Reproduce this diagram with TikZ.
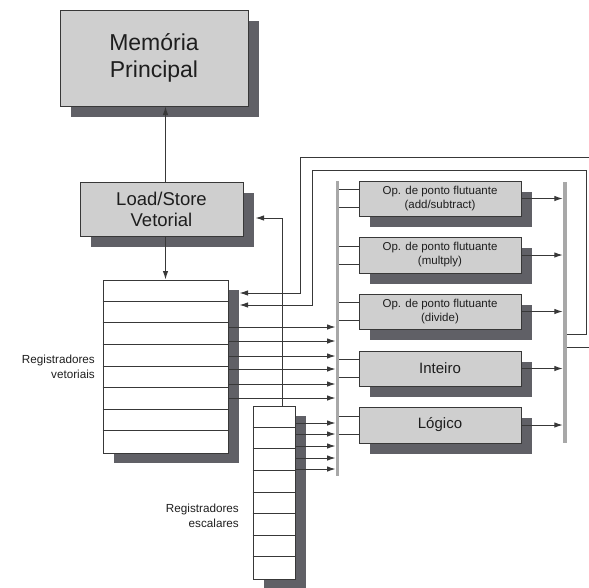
\documentclass[tikz,border=0pt]{standalone}
\usepackage{fontspec}
\setmainfont{Liberation Sans}
\usetikzlibrary{arrows.meta,calc,shadows}
\definecolor{boxfill}{HTML}{CFCFCF}
\definecolor{shade}{HTML}{606066}
\definecolor{busgray}{HTML}{A8A8A8}
\definecolor{linec}{HTML}{383838}
\definecolor{txt}{HTML}{1E1E1E}
\begin{document}
\begin{tikzpicture}[x=1pt,y=-1pt,
  boxsh/.style={draw=linec, line width=1pt, fill=boxfill, inner sep=0pt, text=txt, align=center,
    drop shadow={shadow xshift=11pt, shadow yshift=-11pt, fill=shade, opacity=1}},
  regsh/.style={draw=linec, line width=1pt, fill=white, inner sep=0pt,
    drop shadow={shadow xshift=11pt, shadow yshift=-10pt, fill=shade, opacity=1}},
  bus/.style={fill=busgray, draw=none, inner sep=0pt},
  conn/.style={draw=linec, line width=1pt},
  arr/.style={conn, -{Latex[length=8.5pt,width=5.5pt]}},
  cell/.style={draw=linec, line width=0.9pt},
  lab/.style={text=txt, inner sep=0pt, align=right, font=\fontsize{11.7}{15}\selectfont},
  small/.style={font=\fontsize{11.5}{14}\selectfont},
  mid/.style={font=\fontsize{15}{18}\selectfont}
]
\useasboundingbox (0,0) rectangle (589,587);

% main boxes
\node[boxsh, minimum width=188pt, minimum height=96pt, font=\fontsize{23}{27}\selectfont] (mem) at (154,58) {Memória\\Principal};
\node[boxsh, minimum width=163pt, minimum height=54pt, font=\fontsize{18.5}{21}\selectfont] (ls) at (161.5,209) {Load/Store\\Vetorial};

% register files
\node[regsh, minimum width=125pt, minimum height=173pt] (vreg) at (165.5,366.5) {};
\foreach \i in {1,...,7}
  \draw[cell] ($(vreg.north west)+(0,\i*21.625)$) -- ($(vreg.north east)+(0,\i*21.625)$);
\node[regsh, minimum width=42pt, minimum height=173pt] (sreg) at (274,492.5) {};
\foreach \i in {1,...,7}
  \draw[cell] ($(sreg.north west)+(0,\i*21.625)$) -- ($(sreg.north east)+(0,\i*21.625)$);

\node[lab, anchor=east] (vlab) at (95,366.5) {Registradores\\vetoriais};
\node[lab, anchor=east] (slab) at (239,516) {Registradores\\escalares};

% functional units
\node[boxsh, small, minimum width=162pt, minimum height=35pt] (u1) at (440,198.5) {Op. de ponto flutuante\\(add/subtract)};
\node[boxsh, small, minimum width=162pt, minimum height=36pt] (u2) at (440,255) {Op. de ponto flutuante\\(multply)};
\node[boxsh, small, minimum width=162pt, minimum height=35pt] (u3) at (440,311.5) {Op. de ponto flutuante\\(divide)};
\node[boxsh, mid, minimum width=162pt, minimum height=35pt] (u4) at (440,368.5) {Inteiro};
\node[boxsh, mid, minimum width=162pt, minimum height=36pt] (u5) at (440,425) {Lógico};

% buses
\node[bus, minimum width=3.5pt, minimum height=295pt] (lbus) at (337.5,328.5) {};
\node[bus, minimum width=4pt, minimum height=261pt] (rbus) at (565,312.5) {};

% helper coordinates
\coordinate (vsh) at ($(vreg.east)+(11,0)$);
\coordinate (lssh) at ($(ls.east)+(12,9)$);
\coordinate (eA) at (589,157);
\coordinate (eB) at (589,347);

% memory connections
\draw[arr] (ls.north -| vreg.north) -- (mem.south -| vreg.north);
\draw[arr] (ls.south -| vreg.north) -- (vreg.north);

% vector regs to bus
\foreach \y in {327,341,356,369,384,398}
  \draw[arr] (vreg.east |- 0,\y) -- (lbus.west |- 0,\y);
% scalar regs to bus
\foreach \y in {423,434,446,458,469}
  \draw[arr] (sreg.east |- 0,\y) -- (lbus.west |- 0,\y);

% scalar regs to load/store
\draw[arr] ($(sreg.north)+(8,0)$) -- (282,218) -- (lssh);

% bus to units
\foreach \u in {u1,u2,u3,u4,u5} {
  \draw[conn] (lbus.east |- {$(\u.west)+(0,-9)$}) -- ($(\u.west)+(0,-9)$);
  \draw[conn] (lbus.east |- {$(\u.west)+(0,9)$}) -- ($(\u.west)+(0,9)$);
  \draw[arr] (\u.east) -- (rbus.west |- \u.east);
}

% feedback loops
\draw[conn] (rbus.east |- eB) -- (eB);
\draw[arr] (eA) -- (300,157) -- (300,293) -- (vsh |- 0,293);
\draw[arr] (rbus.east |- 0,334) -- (586,334) -- (586,170) -- (312,170) -- (312,305) -- (vsh |- 0,305);
\end{tikzpicture}
\end{document}
